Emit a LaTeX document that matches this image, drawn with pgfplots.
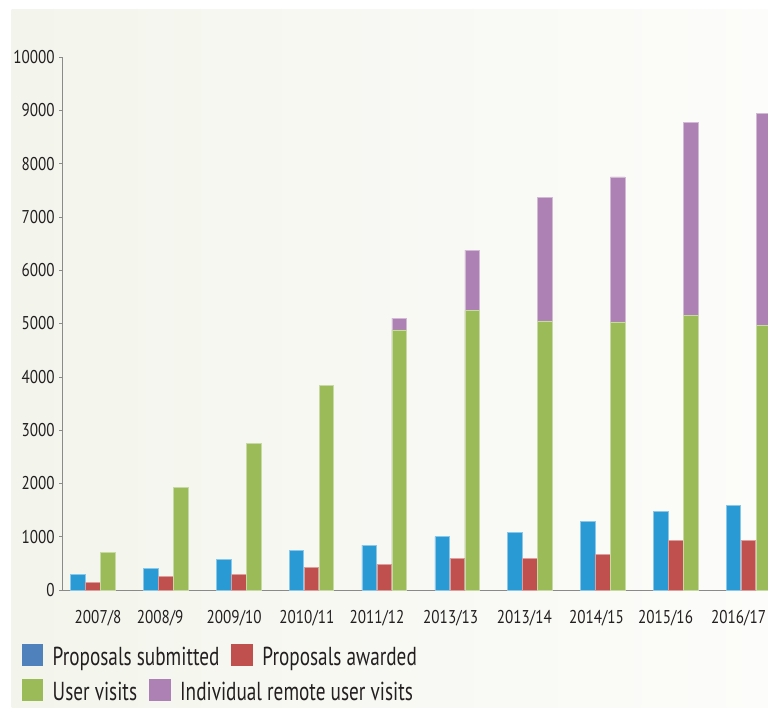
\documentclass[border=0pt]{standalone}
\usepackage{fontspec}
\setmainfont{PT Sans}[FakeStretch=0.82]
\newfontfamily\legendfont{PT Sans}[FakeStretch=0.74]
\usepackage{pgfplots}
\pgfplotsset{compat=1.18}
\usepackage{pgfplotstable}

\definecolor{bgleft}{HTML}{F3F5EC}
\definecolor{bgright}{HTML}{FCFCFA}
\definecolor{cSub}{HTML}{2A9AD5}
\definecolor{cSubKey}{HTML}{4F81BD}
\definecolor{cAwd}{HTML}{C0504D}
\definecolor{cVis}{HTML}{9BBB59}
\definecolor{cRem}{HTML}{AD81B3}
\definecolor{axisgray}{HTML}{8A8A8A}
\definecolor{txt}{HTML}{231F20}

% Facility statistics per year
\pgfplotstableread{
idx submitted awarded visits remote
0   300  140  710  0
1   400  260  1920 0
2   570  300  2750 0
3   740  430  3840 0
4   840  475  4880 220
5   1000 590  5240 1135
6   1080 590  5050 2320
7   1290 670  5030 2720
8   1470 935  5150 3620
9   1590 935  4970 3970
}\facilities

\pgfplotsset{
  keybox/.style={legend image code/.code={\fill[#1] (0pt,0pt) rectangle (20.6pt,20.7pt);}},
  keylegend/.style={
    legend columns=-1,
    legend style={draw=none, fill=none, inner sep=0pt, outer sep=0pt,
      anchor=north west, font=\legendfont\fontsize{26}{28}\selectfont, text=txt,
      column sep=10pt, /tikz/every even column/.append style={column sep=12pt},
      nodes={inner sep=0pt, outer sep=0pt}, cells={anchor=base west}},
  },
  bars/.style={ybar, bar width=14.5pt, draw=#1!55!white, line width=0.5pt, fill=#1},
}

\begin{document}
\begin{tikzpicture}
% page and panel background
\fill[white] (-62.3pt,-117pt) rectangle (705.7pt,590pt);
\shade[left color=bgleft, right color=bgright] (-50.6pt,-117pt) rectangle (705.7pt,580pt);

\begin{axis}[
  at={(0pt,0pt)}, anchor=south west, scale only axis,
  width=705.7pt, height=533pt,
  xmin=-0.42, xmax=9.27, ymin=0, ymax=10000,
  enlargelimits=false,
  axis x line*=bottom, axis y line*=left,
  axis line style={axisgray, line width=0.8pt},
  % year labels sit slightly left of their bar groups
  xtick={0.071,0.923,1.940,2.939,3.901,4.913,5.925,6.915,7.863,8.866},
  xticklabels={2007/8,2008/9,2009/10,2010/11,2011/12,2013/13,2013/14,2014/15,2015/16,2016/17},
  x tick style={draw=none},
  ytick={0,1000,...,10000},
  scaled y ticks=false,
  y tick style={axisgray, line width=0.6pt},
  tick align=outside, major tick length=3pt,
  ticklabel style={font=\fontsize{18.5}{20}\selectfont, text=txt},
  /pgf/number format/assume math mode=true,
  /pgf/number format/1000 sep={},
  xticklabel style={yshift=-14pt},
  yticklabel style={xshift=-1pt},
  ybar,
  keylegend,
  legend style={at={(-0.0575,-0.1019)}},
]
\addplot[bars=cSub, bar shift=-15pt, forget plot] table[x=idx, y=submitted] {\facilities};
\addplot[bars=cAwd, bar shift=0pt, forget plot] table[x=idx, y=awarded] {\facilities};
% remote visits stacked on top of user visits
\addplot[bars=cRem, bar shift=15pt, forget plot] table[x=idx, y expr=\thisrow{visits}+\thisrow{remote}] {\facilities};
\addplot[bars=cVis, bar shift=15pt, forget plot] table[x=idx, y=visits] {\facilities};
\addlegendimage{keybox=cSubKey}
\addlegendentry{Proposals submitted}
\addlegendimage{keybox=cAwd}
\addlegendentry{Proposals awarded}
\end{axis}

% second legend row
\begin{axis}[
  at={(0pt,0pt)}, anchor=south west, scale only axis,
  width=705.7pt, height=533pt,
  hide axis, xmin=0, xmax=1, ymin=0, ymax=1,
  keylegend,
  legend style={at={(-0.0575,-0.1675)}},
]
\addlegendimage{keybox=cVis}
\addlegendentry{User visits}
\addlegendimage{keybox=cRem}
\addlegendentry{Individual remote user visits}
\end{axis}

\pgfresetboundingbox
\path[use as bounding box] (-62.3pt,-117pt) rectangle (705.7pt,590pt);
\end{tikzpicture}
\end{document}
